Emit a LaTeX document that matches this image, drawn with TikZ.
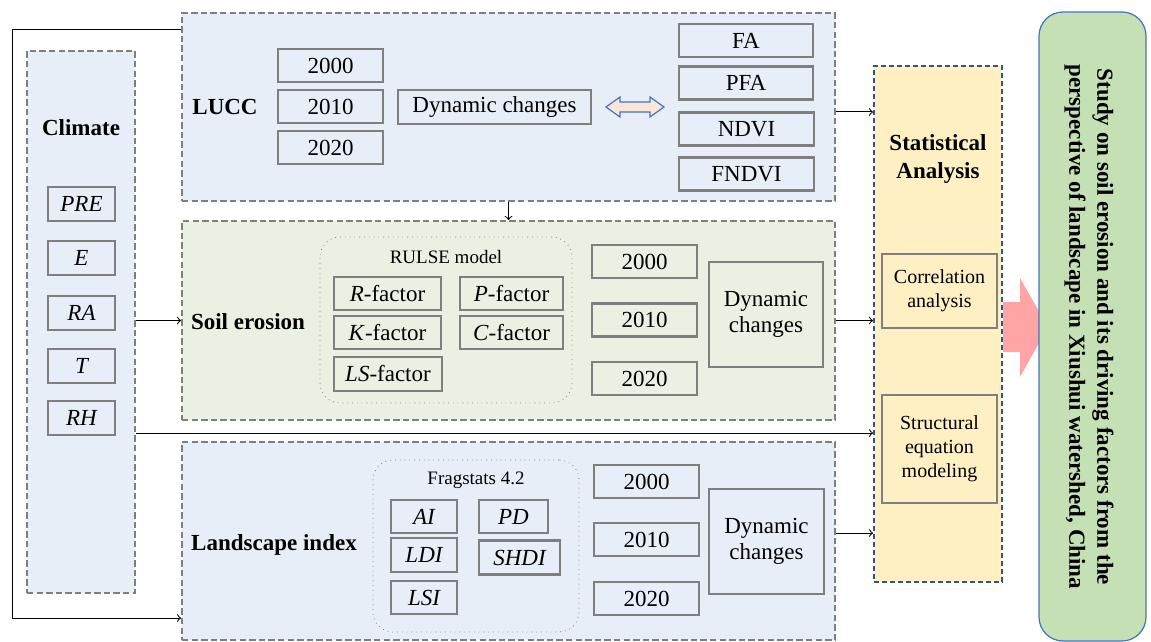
\documentclass[tikz,border=0pt]{standalone}
\usepackage{fontspec}
\setmainfont{Liberation Serif}
\usetikzlibrary{fit}
\definecolor{lightblue}{HTML}{E8EEF8}
\definecolor{lightgreen}{HTML}{EAF1E3}
\definecolor{lightyellow}{HTML}{FFF0C4}
\definecolor{sagegreen}{HTML}{C5E0B4}
\definecolor{boxgray}{HTML}{7F7F7F}
\definecolor{darkblue}{HTML}{2F5597}
\definecolor{pinkarrow}{HTML}{FFA5A5}
\definecolor{peach}{HTML}{FBE5D6}
\definecolor{arrowblue}{HTML}{4472C4}
\begin{document}
\begin{tikzpicture}[x=0.5pt,y=-0.5pt]
                \tikzstyle{every node}+=[inner sep=0pt,font=\fontsize{11.5}{13}\selectfont]
                \tikzstyle{grpbox}=[draw=boxgray,line width=1pt,dash pattern=on 3.2pt off 1.6pt]
                \tikzstyle{itembox}=[draw=boxgray,line width=1.4pt,align=center]
                \tikzstyle{yearbox}=[itembox,minimum width=52.5pt,minimum height=16.5pt]
                \tikzstyle{climbox}=[itembox,minimum width=33.5pt,minimum height=17pt,font=\fontsize{11.5}{13}\selectfont\itshape]
                \tikzstyle{dynbox}=[itembox,minimum width=57pt,minimum height=52.5pt]
                \tikzstyle{modelbox}=[draw=boxgray,line width=0.4pt,dotted,rounded corners=10pt]
                \tikzstyle{head}=[font=\fontsize{11.5}{14}\selectfont\bfseries,align=center]
                \tikzstyle{small}=[font=\fontsize{9.5}{11}\selectfont]
                \tikzstyle{link}=[->,line width=0.5pt]
                \useasboundingbox (0,0) rectangle (1151,642);
                \node [grpbox,fill=lightblue,fit={(27,51) (135,593)}] (clim) {};
                \node [grpbox,fill=lightblue,fit={(182,13) (835,201)}] (lucc) {};
                \node [grpbox,fill=lightgreen,fit={(182,221) (835,420)}] (soil) {};
                \node [grpbox,fill=lightblue,fit={(182,442) (835,640)}] (land) {};
                \node [draw=darkblue,line width=1pt,dash pattern=on 2.6pt off 1.4pt,fill=lightyellow,fit={(874,66) (1002,582)}] (stat) {};
                \fill [pinkarrow] (1003,302) -- (1020,302) -- (1020,278) -- (1048,327) -- (1020,377) -- (1020,352) -- (1003,352) -- cycle;
                \node [draw=arrowblue,line width=0.6pt,fill=sagegreen,rounded corners=12pt,fit={(1039,12) (1146,641)}] (study) {};
                \node [head,rotate=-90] (title) at (1089,327) {Study on soil erosion and its driving factors from the\\perspective of landscape in Xiushui watershed, China};
                \node [head] (climlabel) at (81,128) {Climate};
                \node [climbox] (pre) at (81.5,204) {PRE};
                \node [climbox] (e) at (81.5,258) {E};
                \node [climbox] (ra) at (81.5,313) {RA};
                \node [climbox] (t) at (81.5,366) {T};
                \node [climbox] (rh) at (81.5,418) {RH};
                \node [head] (lucclabel) at (225,107) {LUCC};
                \node [yearbox] (l2000) at (330.5,65.5) {2000};
                \node [yearbox] (l2010) at (330.5,106.5) {2010};
                \node [yearbox] (l2020) at (330.5,147.5) {2020};
                \node [itembox,minimum width=96.5pt,minimum height=17pt] (ldyn) at (494.5,107) {Dynamic changes};
                \draw [arrowblue,fill=peach,line width=0.6pt] (606,107) -- (620,97) -- (620,102) -- (650,102) -- (650,97) -- (664,107) -- (650,117) -- (650,112) -- (620,112) -- (620,117) -- cycle;
                \node [itembox,minimum width=67pt,minimum height=16.5pt] (fa) at (746,40.5) {FA};
                \node [itembox,minimum width=67pt,minimum height=16.5pt] (pfa) at (746,83) {PFA};
                \node [itembox,minimum width=67.5pt,minimum height=16.5pt] (ndvi) at (746.5,129) {NDVI};
                \node [itembox,minimum width=67.5pt,minimum height=16.5pt] (fndvi) at (746.5,174) {FNDVI};
                \node [head] (soillabel) at (248,322) {Soil erosion};
                \node [modelbox,fit={(320,237) (572,403)}] (rulse) {};
                \node [small] (rulsetitle) at (446,257) {RULSE model};
                \node [itembox,minimum width=53.5pt,minimum height=16.5pt] (rf) at (387.5,293.5) {\textit{R}-factor};
                \node [itembox,minimum width=51.5pt,minimum height=16.5pt] (pf) at (511.5,293.5) {\textit{P}-factor};
                \node [itembox,minimum width=53.5pt,minimum height=16.5pt] (kf) at (387.5,332.5) {\textit{K}-factor};
                \node [itembox,minimum width=51.5pt,minimum height=16.5pt] (cf) at (511.5,332.5) {\textit{C}-factor};
                \node [itembox,minimum width=54pt,minimum height=17pt] (lsf) at (388,374) {\textit{LS}-factor};
                \node [yearbox] (s2000) at (644.5,261.5) {2000};
                \node [yearbox] (s2010) at (644.5,320) {2010};
                \node [yearbox] (s2020) at (644.5,378.5) {2020};
                \node [dynbox] (sdyn) at (766,314.5) {Dynamic\\changes};
                \node [head] (landlabel) at (274,545) {Landscape index};
                \node [modelbox,fit={(373,460) (579,632)}] (frag) {};
                \node [small] (fragtitle) at (476,480) {Fragstats 4.2};
                \node [climbox,minimum width=33pt,minimum height=16.5pt] (ai) at (424,516.5) {AI};
                \node [climbox,minimum width=34.5pt,minimum height=16.5pt] (pd) at (513.5,516.5) {PD};
                \node [climbox,minimum width=33pt] (ldi) at (424,555) {LDI};
                \node [climbox,minimum width=40.5pt] (shdi) at (519.5,557.5) {SHDI};
                \node [climbox,minimum width=33pt,minimum height=16.5pt] (lsi) at (424,597.5) {LSI};
                \node [yearbox] (g2000) at (646.5,481.5) {2000};
                \node [yearbox] (g2010) at (646.5,539.5) {2010};
                \node [yearbox] (g2020) at (646.5,598.5) {2020};
                \node [dynbox,minimum width=57.5pt] (gdyn) at (766.5,541.5) {Dynamic\\changes};
                \node [head] (statlabel) at (938,159) {Statistical\\Analysis};
                \node [itembox,font=\fontsize{10}{12}\selectfont,minimum width=57.5pt,minimum height=37pt] (corr) at (939.5,291) {Correlation\\analysis};
                \node [itembox,font=\fontsize{10}{12}\selectfont,minimum width=57.5pt,minimum height=54pt] (sem) at (939.5,449) {Structural\\equation\\modeling};
                \draw [link] (lucc.west |- 0,30) -| (12,618) -- (land.west |- 0,618);
                \draw [link] (clim.east |- soil.west) -- (soil.west);
                \draw [link] (clim.east |- 0,433) -- (stat.west |- 0,433);
                \draw [link] (lucc.south) -- (soil.north);
                \draw [link] (lucc.east |- 0,112) -- (stat.west |- 0,112);
                \draw [link] (soil.east) -- (stat.west |- soil.east);
                \draw [link] (land.east |- 0,533) -- (stat.west |- 0,533);
            \end{tikzpicture}
\end{document}
